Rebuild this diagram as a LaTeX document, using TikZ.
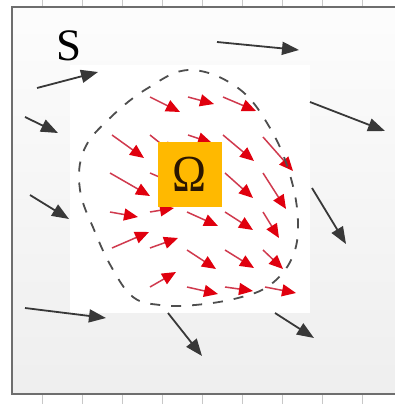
\documentclass[tikz,border=0pt]{standalone}
\usepackage{fontspec}
\setmainfont{Liberation Serif}
\usetikzlibrary{arrows.meta}
\definecolor{frameline}{HTML}{6E6E6E}
\definecolor{tickgray}{HTML}{C8C8C8}
\definecolor{fieldred}{HTML}{E0000E}
\definecolor{shaftred}{HTML}{D03A4E}
\definecolor{flowgray}{HTML}{383838}
\definecolor{dashgray}{HTML}{4E4E4E}
\definecolor{omegabox}{HTML}{FFB900}
\definecolor{omegaink}{HTML}{2B1600}
\begin{document}
\begin{tikzpicture}[x=1pt,y=-1pt,
  innerflow/.style={draw=shaftred, line width=1.5pt,
    -{Triangle[length=14pt,width=12pt,color=fieldred]}},
  outerflow/.style={draw=flowgray, line width=1.8pt,
    -{Triangle[length=17pt,width=13pt,color=flowgray]}},
  boundary/.style={draw=dashgray, line width=1.8pt, dash pattern=on 10pt off 11pt},
  tick/.style={draw=tickgray, line width=0.6pt}]
\useasboundingbox (0,0) rectangle (395,404);

% shaded domain and the white inner region
\shade[top color=gray!2, bottom color=gray!13] (12,7) rectangle (395,394);
\fill[white] (70,65) rectangle (310,313);

% axis ticks above and below the frame
\foreach \tx in {42,82,...,362} {
  \draw[tick] (\tx,0) -- (\tx,7);
  \draw[tick] (\tx,394) -- (\tx,404);
}

% frame (open on the right)
\draw[frameline, line width=2pt] (395,7) -- (12,7) -- (12,394) -- (395,394);

% outer field S
\node[font=\fontsize{45}{45}\selectfont] (S) at (69.5,46) {S};

\coordinate (o1a) at (37,88);   \coordinate (o1b) at (98,72);
\coordinate (o2a) at (25,117);  \coordinate (o2b) at (58,133);
\coordinate (o3a) at (217,42);  \coordinate (o3b) at (299,50);
\coordinate (o4a) at (310,102); \coordinate (o4b) at (385,131);
\coordinate (o5a) at (30,195);  \coordinate (o5b) at (69,219);
\coordinate (o6a) at (312,188); \coordinate (o6b) at (346,244);
\coordinate (o7a) at (25,308);  \coordinate (o7b) at (106,318);
\coordinate (o8a) at (168,313); \coordinate (o8b) at (202,356);
\coordinate (o9a) at (275,313); \coordinate (o9b) at (314,338);
\foreach \k in {1,...,9} \draw[outerflow] (o\k a) -- (o\k b);

% inner field
\foreach \ax/\ay/\bx/\by in {
  150/97/180/112, 188/97/214/104, 223/97/256/111,
  112/135/144/158, 150/135/175/155, 188/135/212/143, 223/135/254/161, 263/137/293/171,
  110/173/150/196, 150/173/178/185, 225/173/253/198, 263/173/286/209,
  110/212/138/217, 150/212/174/208, 187/212/218/226, 225/212/253/230, 263/212/279/238,
  112/248/149/232, 150/248/178/238, 187/250/216/269, 225/250/254/268, 263/250/283/269,
  150/287/176/272, 187/287/218/294, 225/287/253/291, 265/287/296/293}
  \draw[innerflow] (\ax,\ay) -- (\bx,\by);

% dashed boundary of the region
\draw[boundary] plot[smooth cycle, tension=0.65] coordinates {
  (190,70) (238,88) (270,128) (290,175) (298,222) (292,258) (270,285)
  (238,298) (195,305) (160,305) (133,297) (112,268) (95,232) (80,190)
  (84,150) (110,118) (148,88)};

% source region Omega
\node[fill=omegabox, minimum width=64pt, minimum height=65pt, inner sep=0pt,
  text=omegaink, font=\fontsize{52}{52}\selectfont] (omega) at (190,174.5)
  {\scalebox{0.88}[1]{Ω}};
\end{tikzpicture}
\end{document}
